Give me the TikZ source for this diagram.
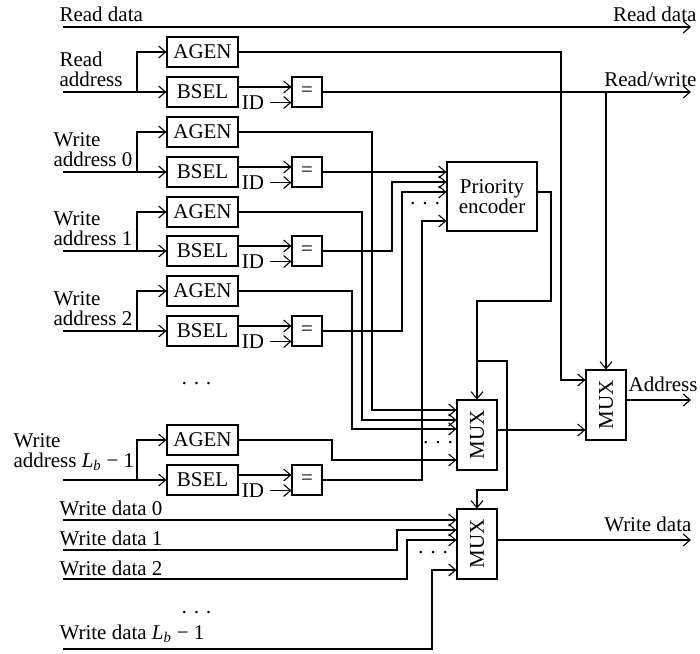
\documentclass[tikz,border=0pt]{standalone}
\usepackage{fontspec}
\setmainfont{Liberation Serif}
\usepackage{graphicx}
\usetikzlibrary{arrows.meta}
\begin{document}
\begin{tikzpicture}[x=1pt,y=-1pt,
  line width=1.1pt,
  >={Straight Barb[length=7pt,width=12pt]},
  txt/.style={inner sep=0pt,font=\fontsize{21}{20}\selectfont},
  blk/.style={draw,inner sep=0pt,minimum width=71pt,minimum height=30pt,font=\fontsize{21}{20}\selectfont},
  eqbox/.style={draw,inner sep=0pt,minimum width=30pt,minimum height=30pt,font=\fontsize{21}{20}\selectfont},
  muxbox/.style={draw,inner sep=0pt,minimum width=40pt,minimum height=70pt,font=\fontsize{21}{20}\selectfont},
  pebox/.style={draw,inner sep=0pt,minimum width=90pt,minimum height=69pt,align=center,font=\fontsize{21}{19}\selectfont},
  dotsn/.style={inner sep=0pt,font=\fontsize{21}{20}\selectfont}
]
\useasboundingbox (0,0) rectangle (700,653);

% ---------- read data ----------
\coordinate (rdin) at (63,27);
\coordinate (rdout) at (691,27);
\node[txt,anchor=base west] (rdl) at (59,21) {Read data};
\node[txt,anchor=base east] (rdr) at (697,21) {Read data};
\draw[->] (rdin) -- (rdout);

% ---------- right-hand blocks ----------
\node[pebox] (pe) at (492,196.5) {Priority\\encoder};
\node[muxbox] (mux1) at (477,435) {\rotatebox{90}{MUX}};
\node[muxbox] (mux2) at (606,405) {\rotatebox{90}{MUX}};
\node[muxbox] (mux3) at (477,544) {\rotatebox{90}{MUX}};

\coordinate (y172) at (0,172);
\coordinate (y182) at (0,182);
\coordinate (y192) at (0,192);
\coordinate (y221) at (0,221);
\coordinate (y380) at (0,380);
\coordinate (y400) at (0,400);
\coordinate (y410) at (0,410);
\coordinate (y420) at (0,420);
\coordinate (y429) at (0,429);
\coordinate (y430) at (0,430);
\coordinate (y460) at (0,460);
\coordinate (y519) at (0,520);
\coordinate (y530) at (0,530);
\coordinate (y540) at (0,540);
\coordinate (y570) at (0,570);

% ---------- read address ----------
\node[blk] (ra) at (202.5,52) {AGEN};
\node[blk] (rb) at (202.5,92) {BSEL};
\node[eqbox] (re) at (307,92) {=};
\node[txt] (rid) at (253,102.5) {ID};
\node[txt,anchor=south west,align=left] (rlab) at (59,87) {Read\\address};
\coordinate (rin) at (63,92);
\coordinate (rbr) at (137,92);
\draw[->] (rin) -- (rb.west);
\draw[->] (rbr) |- (ra.west);
\draw[->] ([yshift=5pt]rb.east) -- ([yshift=5pt]re.west);
\draw[->] ([xshift=5pt]rid.east) -- (rid.east -| re.west);

% ---------- write address 0 ----------
\node[blk] (a0) at (202.5,132) {AGEN};
\node[blk] (b0) at (202.5,172) {BSEL};
\node[eqbox] (e0) at (307,172) {=};
\node[txt] (id0) at (253,182.5) {ID};
\node[txt,anchor=south west,align=left] (lab0) at (53,167) {Write\\address 0};
\coordinate (in0) at (63,172);
\coordinate (br0) at (137,172);
\draw[->] (in0) -- (b0.west);
\draw[->] (br0) |- (a0.west);
\draw[->] ([yshift=5pt]b0.east) -- ([yshift=5pt]e0.west);
\draw[->] ([xshift=5pt]id0.east) -- (id0.east -| e0.west);

% ---------- write address 1 ----------
\node[blk] (a1) at (202.5,212) {AGEN};
\node[blk] (b1) at (202.5,251) {BSEL};
\node[eqbox] (e1) at (307,251) {=};
\node[txt] (id1) at (253,261.5) {ID};
\node[txt,anchor=south west,align=left] (lab1) at (53,246) {Write\\address 1};
\coordinate (in1) at (63,251);
\coordinate (br1) at (137,251);
\draw[->] (in1) -- (b1.west);
\draw[->] (br1) |- (a1.west);
\draw[->] ([yshift=5pt]b1.east) -- ([yshift=5pt]e1.west);
\draw[->] ([xshift=5pt]id1.east) -- (id1.east -| e1.west);

% ---------- write address 2 ----------
\node[blk] (a2) at (202.5,291) {AGEN};
\node[blk] (b2) at (202.5,331) {BSEL};
\node[eqbox] (e2) at (307,331) {=};
\node[txt] (id2) at (253,341.5) {ID};
\node[txt,anchor=south west,align=left] (lab2) at (53,326) {Write\\address 2};
\coordinate (in2) at (63,331);
\coordinate (br2) at (137,331);
\draw[->] (in2) -- (b2.west);
\draw[->] (br2) |- (a2.west);
\draw[->] ([yshift=5pt]b2.east) -- ([yshift=5pt]e2.west);
\draw[->] ([xshift=5pt]id2.east) -- (id2.east -| e2.west);

\node[dotsn] (dotsA) at (196.5,386) {·\ ·\ ·};

% ---------- write address Lb-1 ----------
\node[blk] (aL) at (202.5,440) {AGEN};
\node[blk] (bL) at (202.5,480) {BSEL};
\node[eqbox] (eL) at (307,480) {=};
\node[txt] (idL) at (253,490.5) {ID};
\node[txt,anchor=south west,align=left] (labL) at (13,471) {Write\\address \textit{L}\textsubscript{\textit{b}} − 1};
\coordinate (inL) at (63,480);
\coordinate (brL) at (137,480);
\draw[->] (inL) -- (bL.west);
\draw[->] (brL) |- (aL.west);
\draw[->] ([yshift=5pt]bL.east) -- ([yshift=5pt]eL.west);
\draw[->] ([xshift=5pt]idL.east) -- (idL.east -| eL.west);

% ---------- comparator outputs ----------
\coordinate (rwout) at (691,92);
\node[txt,anchor=base east] (rwlab) at (697,86) {Read/write};
\draw[->] (re.east) -- (rwout);
\draw[->] (606,92) -- (mux2.north);
\draw[->] (e0.east) -- (pe.west |- y172);
\draw[->] (e1.east) -- (392,251) |- (pe.west |- y182);
\draw[->] (e2.east) -- (402,331) |- (pe.west |- y192);
\draw[->] (eL.east) -- (422,480) |- (pe.west |- y221);
\node[dotsn] (dotsPE) at (425,206) {·\ ·\ ·};

% ---------- AGEN outputs ----------
\draw[->] (ra.east) -- (561,52) |- (mux2.west |- y380);
\draw[->] (a0.east) -- (372,132) |- (mux1.west |- y410);
\draw[->] (a1.east) -- (362,212) |- (mux1.west |- y420);
\draw[->] (a2.east) -- (352,291) |- (mux1.west |- y429);
\draw[->] (aL.east) -- (332,440) |- (mux1.west |- y460);
\node[dotsn] (dotsM1) at (438,445) {·\ ·\ ·};

% ---------- priority encoder output ----------
\draw[->] ([yshift=4.5pt]pe.east) -- (551,192) -- (551,301) -- (477,301) -- (mux1.north);
\draw[->] (477,361) -- (507,361) -- (507,490) -- (477,490) -- (mux3.north);

% ---------- mux outputs ----------
\draw[->] (mux1.east |- y430) -- (mux2.west |- y430);
\coordinate (adout) at (691,400);
\node[txt,anchor=base east] (adlab) at (698,391) {Address};
\draw[->] (mux2.east |- y400) -- (adout);
\coordinate (wdout) at (691,540);
\node[txt,anchor=base east] (wdlab) at (692,531) {Write data};
\draw[->] (mux3.east |- y540) -- (wdout);

% ---------- write data ----------
\node[txt,anchor=base west] (wl0) at (59,515) {Write data 0};
\node[txt,anchor=base west] (wl1) at (59,545) {Write data 1};
\node[txt,anchor=base west] (wl2) at (59,575) {Write data 2};
\node[dotsn] (dotsW) at (196.5,615) {·\ ·\ ·};
\node[txt,anchor=base west] (wlL) at (59,639) {Write data \textit{L}\textsubscript{\textit{b}} − 1};
\coordinate (wd0) at (63,520);
\coordinate (wd1) at (63,550);
\coordinate (wd2) at (63,579);
\coordinate (wdL) at (63,649);
\draw[->] (wd0) -- (mux3.west |- y519);
\draw[->] (wd1) -- (397,550) |- (mux3.west |- y530);
\draw[->] (wd2) -- (407,579) |- (mux3.west |- y540);
\draw[->] (wdL) -- (432,649) |- (mux3.west |- y570);
\node[dotsn] (dotsM3) at (433,555) {·\ ·\ ·};
\end{tikzpicture}
\end{document}
